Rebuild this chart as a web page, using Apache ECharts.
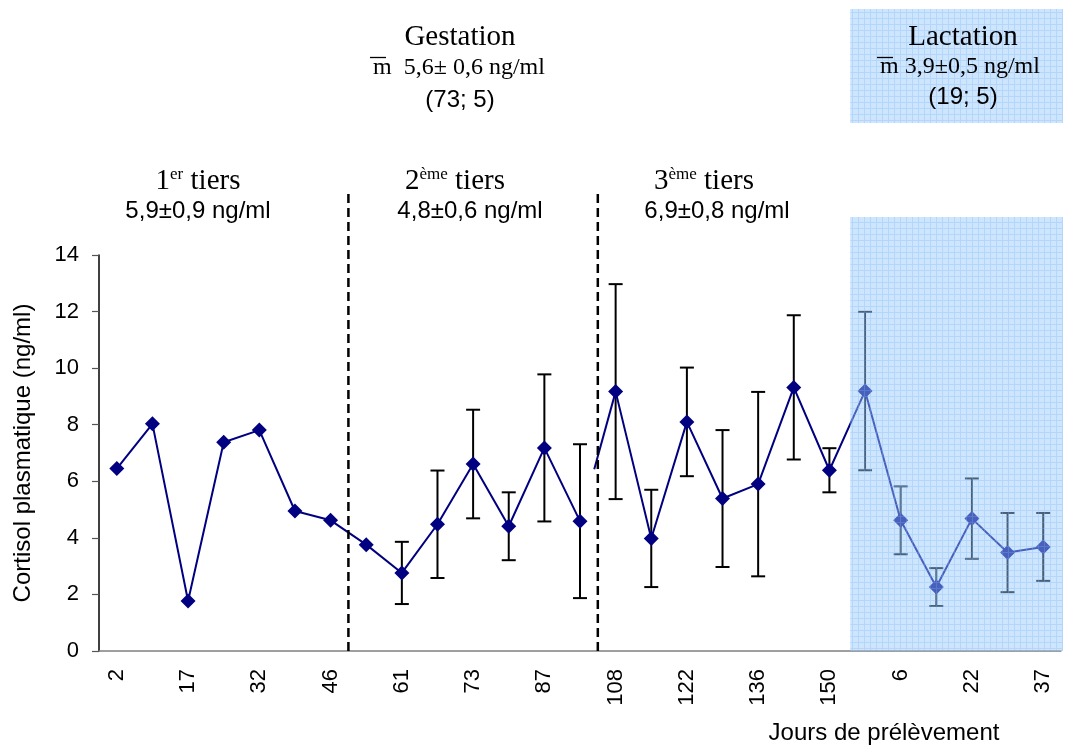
<!DOCTYPE html>
<html>
<head>
<meta charset="utf-8">
<script src="https://cdn.jsdelivr.net/npm/echarts@6/dist/echarts.min.js"></script>
<style>
  html, body { margin: 0; padding: 0; background: #fff; }
  #chart { width: 1065px; height: 745px; }
</style>
</head>
<body>
<div id="chart"></div>
<script>
// Sampling days (only every other day is labelled on the axis)
const sampleDays = ['2', '', '17', '', '32', '', '46', '', '61', '', '73', '', '87', '',
  '108', '', '122', '', '136', '', '150', '', '6', '', '22', '', '37'];

// Mean plasma cortisol (ng/ml) per sampling day
const cortisolMean = [6.45, 8.03, 1.77, 7.38, 7.81, 4.95, 4.62, 3.76, 2.76, 4.48, 6.61, 4.41,
  7.18, 4.59, 9.17, 3.98, 8.10, 5.39, 5.90, 9.32, 6.39, 9.19, 4.62, 2.26, 4.68, 3.48, 3.68];

// Standard error (ng/ml); null where no error bar is drawn
const cortisolErr = [null, null, null, null, null, null, null, null, 1.10, 1.90, 1.92, 1.20,
  2.60, 2.72, 3.80, 1.72, 1.92, 2.42, 3.26, 2.55, 0.78, 2.80, 1.20, 0.67, 1.42, 1.40, 1.20];

// Period boundaries: last gestation index of each third, first lactation index
const thirdEnds = [6, 13];
const lactationStart = 21;

const SERIF = 'Liberation Serif, Times New Roman, serif';
const SANS = 'Liberation Sans, Arial, sans-serif';
const NAVY = '#000080';

const errData = [];
cortisolMean.forEach((v, i) => {
  if (cortisolErr[i] != null) errData.push([i, v, cortisolErr[i]]);
});

// The trace is drawn in two pieces: up to the end of the 2nd third, then from the 3rd third on;
// the link between them only shows its upper part, starting past the separator.
const split = thirdEnds[1];
const partA = cortisolMean.map((v, i) => (i <= split ? v : null));
const partB = cortisolMean.map((v, i) => (i > split ? v : null));
const linkData = [[split, cortisolMean[split], split + 1, cortisolMean[split + 1]]];
const linkStartFraction = 0.4;

const chart = echarts.init(document.getElementById('chart'), null, { renderer: 'canvas' });

const lineCommon = {
  type: 'line',
  xAxisIndex: 0,
  z: 3,
  symbol: 'diamond',
  symbolSize: [15, 15],
  connectNulls: false,
  lineStyle: { color: NAVY, width: 2 },
  itemStyle: { color: NAVY }
};

const option = {
  animation: false,
  backgroundColor: '#fff',
  grid: { left: 99, right: 4, top: 255, bottom: 94, containLabel: false, outerBoundsMode: 'none' },
  xAxis: [
    {
      type: 'category',
      data: sampleDays,
      boundaryGap: true,
      position: 'bottom',
      axisLine: { lineStyle: { color: '#808080', width: 1.5 } },
      axisTick: { alignWithLabel: false, interval: 0, length: 7, lineStyle: { color: '#555', width: 1.2 } },
      axisLabel: {
        interval: 0, rotate: 90, margin: 18,
        fontFamily: SANS, fontSize: 22, color: '#000'
      },
      splitLine: { show: false }
    },
    {
      type: 'category',
      data: sampleDays,
      boundaryGap: true,
      position: 'bottom',
      axisLine: { show: false },
      axisTick: { alignWithLabel: true, inside: true, interval: 0, length: 5, lineStyle: { color: '#555', width: 1.2 } },
      axisLabel: { show: false },
      splitLine: { show: false }
    }
  ],
  yAxis: {
    type: 'value',
    min: 0, max: 14, interval: 2,
    name: 'Cortisol plasmatique (ng/ml)',
    nameLocation: 'middle',
    nameGap: 64,
    nameTextStyle: { fontFamily: SANS, fontSize: 24, color: '#000' },
    axisLine: { show: true, lineStyle: { color: '#000', width: 1.5 } },
    axisTick: { show: true, length: 7, lineStyle: { color: '#555', width: 1.2 } },
    axisLabel: { margin: 20, fontFamily: SANS, fontSize: 22, color: '#000' },
    splitLine: { show: false }
  },
  series: [
    {
      name: 'SE',
      type: 'custom',
      xAxisIndex: 0,
      z: 2,
      data: errData,
      renderItem: function (params, api) {
        const x = api.value(0), v = api.value(1), e = api.value(2);
        const top = api.coord([x, v + e]);
        const bot = api.coord([x, v - e]);
        const cap = 7;
        const style = { stroke: '#000', lineWidth: 2, fill: null };
        return {
          type: 'group',
          children: [
            { type: 'line', shape: { x1: top[0], y1: top[1], x2: bot[0], y2: bot[1] }, style: style },
            { type: 'line', shape: { x1: top[0] - cap, y1: top[1], x2: top[0] + cap, y2: top[1] }, style: style },
            { type: 'line', shape: { x1: bot[0] - cap, y1: bot[1], x2: bot[0] + cap, y2: bot[1] }, style: style }
          ]
        };
      }
    },
    {
      name: 'Link',
      type: 'custom',
      xAxisIndex: 0,
      z: 3,
      data: linkData,
      renderItem: function (params, api) {
        const a = api.coord([api.value(0), api.value(1)]);
        const b = api.coord([api.value(2), api.value(3)]);
        const t = linkStartFraction;
        return {
          type: 'line',
          shape: { x1: a[0] + (b[0] - a[0]) * t, y1: a[1] + (b[1] - a[1]) * t, x2: b[0], y2: b[1] },
          style: { stroke: NAVY, lineWidth: 2 }
        };
      }
    },
    Object.assign({ name: 'Cortisol', data: partA }, lineCommon),
    Object.assign({ name: 'Cortisol ', data: partB }, lineCommon)
  ]
};

chart.setOption(option);

// Light-blue gridded fill used for the lactation period
function makeGridPattern() {
  const c = document.createElement('canvas');
  c.width = 6; c.height = 6;
  const g = c.getContext('2d');
  g.fillStyle = 'rgba(150,200,250,0.48)';
  g.fillRect(0, 0, 6, 6);
  g.fillStyle = 'rgba(120,180,245,0.30)';
  g.fillRect(0, 0, 6, 1);
  g.fillRect(0, 1, 1, 5);
  return c;
}
const pattern = { image: makeGridPattern(), repeat: 'repeat' };

function px(idx) { return chart.convertToPixel({ xAxisIndex: 0 }, idx); }
function py(val) { return chart.convertToPixel({ yAxisIndex: 0 }, val); }

const step = px(1) - px(0);
const yZero = py(0);
const plotRight = px(sampleDays.length - 1) + step / 2;
const lactLeft = px(lactationStart) - step / 2 + 3;

function txt(text, x, y, font, size, extra) {
  return Object.assign({
    type: 'text', z: 20, silent: true,
    style: {
      text: text, x: x, y: y,
      fontFamily: font, fontSize: size, fill: '#000',
      align: 'center', verticalAlign: 'middle',
      textAlign: 'center', textVerticalAlign: 'middle'
    }
  }, extra || {});
}

const supRich = { sup: { fontSize: 17, verticalAlign: 'top', fontFamily: SERIF } };

const graphics = [];

// Dashed separators between the thirds of gestation
thirdEnds.forEach(i => {
  const x = px(i) + step / 2;
  graphics.push({
    type: 'line', z: 5, silent: true,
    shape: { x1: x, y1: yZero, x2: x, y2: 192 },
    style: { stroke: '#000', lineWidth: 2.5, lineDash: [9, 5] }
  });
});

// Lactation shading (over the plot) and its heading box
graphics.push({
  type: 'rect', z: 10, silent: true,
  shape: { x: lactLeft, y: 217, width: plotRight + 2 - lactLeft, height: yZero - 217 },
  style: { fill: pattern }
});
graphics.push({
  type: 'rect', z: 10, silent: true,
  shape: { x: lactLeft, y: 9, width: plotRight + 2 - lactLeft, height: 114 },
  style: { fill: pattern }
});

// Period headings
graphics.push(txt('Gestation', 460, 37, SERIF, 29));
graphics.push(txt('m  5,6\u00b1 0,6 ng/ml', 459, 68, SERIF, 24));
graphics.push(txt('(73; 5)', 460, 100, SANS, 24));
graphics.push(txt('Lactation', 963, 37, SERIF, 29));
graphics.push(txt('m 3,9\u00b10,5 ng/ml', 960, 67, SERIF, 24));
graphics.push(txt('(19; 5)', 963, 97, SANS, 24));

// Overlines on the mean symbol
graphics.push({ type: 'line', z: 20, silent: true, shape: { x1: 370, y1: 57.5, x2: 386, y2: 57.5 }, style: { stroke: '#000', lineWidth: 1.3 } });
graphics.push({ type: 'line', z: 20, silent: true, shape: { x1: 877, y1: 57.5, x2: 893, y2: 57.5 }, style: { stroke: '#000', lineWidth: 1.3 } });

// Thirds of gestation
const thirdText = [
  { head: '1{sup|er} tiers', hx: 198, val: '5,9\u00b10,9 ng/ml', vx: 198 },
  { head: '2{sup|\u00e8me} tiers', hx: 455, val: '4,8\u00b10,6 ng/ml', vx: 470 },
  { head: '3{sup|\u00e8me} tiers', hx: 704, val: '6,9\u00b10,8 ng/ml', vx: 717 }
];
thirdText.forEach(t => {
  const h = txt(t.head, t.hx, 181, SERIF, 29);
  h.style.rich = supRich;
  graphics.push(h);
  graphics.push(txt(t.val, t.vx, 211, SANS, 24));
});

// X axis title
graphics.push(txt('Jours de pr\u00e9l\u00e8vement', 884, 733, SANS, 24));

chart.setOption({ graphic: { elements: graphics } });
</script>
</body>
</html>
